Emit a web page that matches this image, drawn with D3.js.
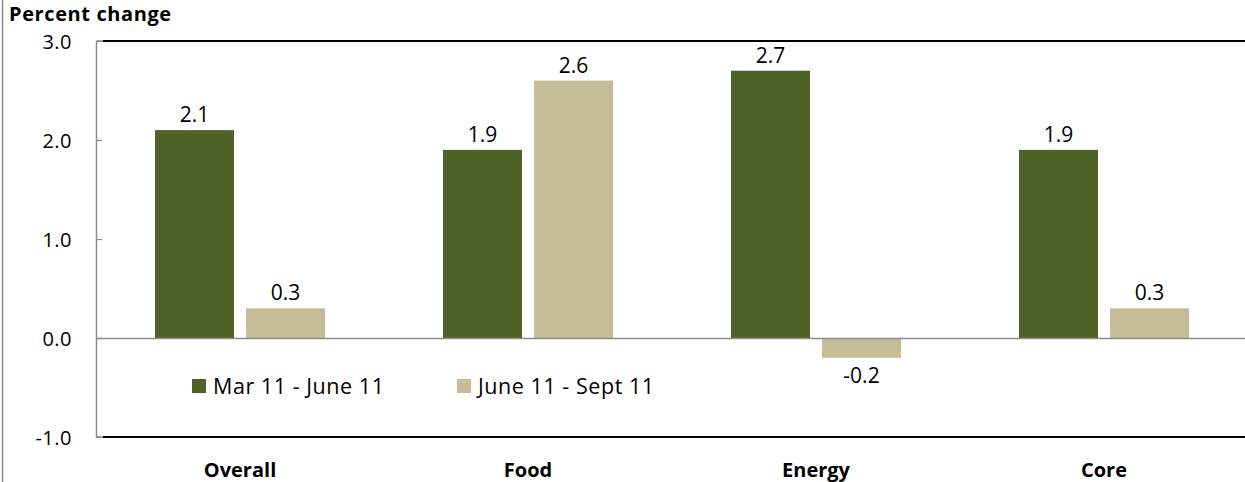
<!DOCTYPE html>
<html><head><meta charset="utf-8">
<script src="https://cdn.jsdelivr.net/npm/d3@7"></script>
<style>body{margin:0;background:#fff}svg{display:block}text{font-family:"Open Sans",sans-serif;fill:#000}</style>
</head><body>
<svg id="c" width="1245" height="482"></svg>
<script>
const categories = ["Overall", "Food", "Energy", "Core"];
const seriesNames = ["Mar 11 - June 11", "June 11 - Sept 11"];
const series1 = [2.1, 1.9, 2.7, 1.9];
const series2 = [0.3, 2.6, -0.2, 0.3];
const yTicks = [-1.0, 0.0, 1.0, 2.0, 3.0];
const colors = ["#4F6228", "#C4BD97"];
const fmt = v => v.toFixed(1);

const svg = d3.select("#c");
const y = d3.scaleLinear().domain([-1, 3]).range([437, 41]);
const x0 = d3.scaleBand().domain(categories).range([96, 1248]).padding(0);
const x1 = d3.scaleBand().domain([0, 1]).range([59, 229]).paddingInner(12 / 91).paddingOuter(0);

// outer left border
svg.append("line").attr("x1", 2.5).attr("x2", 2.5).attr("y1", 0).attr("y2", 482).attr("stroke", "#8c8c8c").attr("stroke-width", 1.5);

// title
svg.append("text").attr("x", 9).attr("y", 20.5).attr("font-size", 20).attr("font-weight", "bold").attr("letter-spacing", 0.6).text("Percent change");

// frame lines
svg.append("line").attr("x1", 103).attr("x2", 1245).attr("y1", y(3)).attr("y2", y(3)).attr("stroke", "#000").attr("stroke-width", 2);
svg.append("line").attr("x1", 103).attr("x2", 1245).attr("y1", y(-1)).attr("y2", y(-1)).attr("stroke", "#000").attr("stroke-width", 2);

// y axis
const yAxis = d3.axisRight(y).tickValues(yTicks).tickSize(6).tickFormat("");
const gy = svg.append("g").attr("transform", "translate(96,0)").call(yAxis);
gy.select(".domain").attr("stroke", "#8c8c8c").attr("stroke-width", 1.5).attr("d", `M0.5,${y(3)}H7V${y(3)}M0.5,${y(3)}V${y(-1)}H7`);
gy.selectAll(".tick line").attr("stroke", "#8c8c8c").attr("stroke-width", 1.2);
svg.append("g").selectAll("text").data(yTicks).join("text")
  .attr("x", 72).attr("y", d => y(d) + 1).attr("dy", "0.35em").attr("text-anchor", "end")
  .attr("font-size", 20).attr("letter-spacing", 0.5).text(d => fmt(d));

// bars
const data = categories.map((c, i) => ({cat: c, vals: [series1[i], series2[i]]}));
const groups = svg.append("g").selectAll("g").data(data).join("g")
  .attr("transform", d => `translate(${x0(d.cat)},0)`);
groups.selectAll("rect").data(d => d.vals.map((v, k) => ({v, k}))).join("rect")
  .attr("x", d => x1(d.k)).attr("width", x1.bandwidth())
  .attr("y", d => y(Math.max(0, d.v))).attr("height", d => Math.abs(y(d.v) - y(0)))
  .attr("fill", d => colors[d.k]);
groups.selectAll("text").data(d => d.vals.map((v, k) => ({v, k}))).join("text")
  .attr("x", d => x1(d.k) + x1.bandwidth() / 2)
  .attr("y", d => d.v >= 0 ? y(d.v) - 8 : y(d.v) + 25)
  .attr("text-anchor", "middle").attr("font-size", 21)
  .text(d => fmt(d.v));

// zero line
svg.append("line").attr("x1", 96).attr("x2", 1245).attr("y1", y(0) + 0.5).attr("y2", y(0) + 0.5).attr("stroke", "#8c8c8c").attr("stroke-width", 1.5);

// category labels
svg.append("g").selectAll("text").data(categories).join("text")
  .attr("x", d => x0(d) + x0.bandwidth() / 2).attr("y", 477)
  .attr("text-anchor", "middle").attr("font-size", 20).attr("font-weight", "bold").text(d => d);

// legend
const legX = [192, 457];
const leg = svg.append("g").selectAll("g").data(seriesNames).join("g")
  .attr("transform", (d, i) => `translate(${legX[i]},379)`);
leg.append("rect").attr("width", 14).attr("height", 14).attr("fill", (d, i) => colors[i]);
leg.append("text").attr("x", 21).attr("y", 7).attr("dy", "0.35em").attr("font-size", 21.5).attr("letter-spacing", 0.55).text(d => d);
</script>
</body></html>
